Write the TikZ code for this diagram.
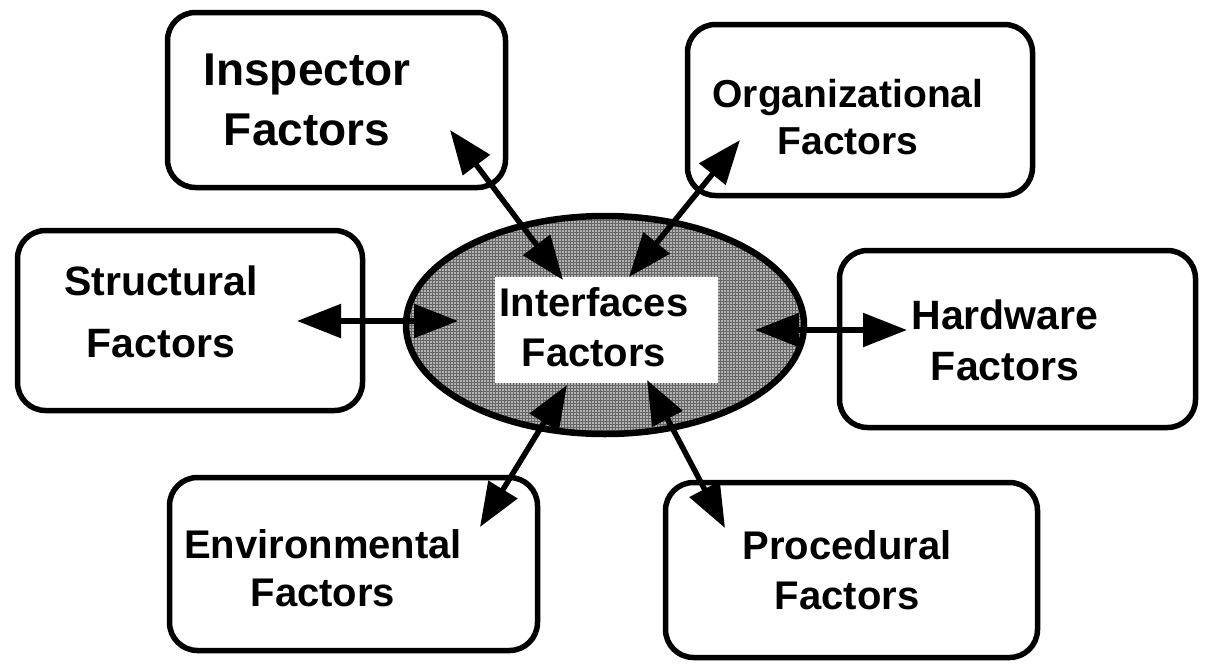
\documentclass[tikz,border=0pt]{standalone}
\usepackage{fontspec}
\setmainfont{Liberation Sans}
\usetikzlibrary{arrows.meta, shapes.geometric, patterns}
\tikzstyle{factorbox} = [draw, line width=5.5pt, rounded corners=28pt, inner sep=0pt]
\tikzstyle{factortext} = [align=center, font=\bfseries, inner sep=0pt]
\tikzstyle{biarrow} = [line width=5.5pt, {Triangle[length=44pt,width=33pt]}-{Triangle[length=44pt,width=33pt]}]

\begin{document}
\begin{tikzpicture}[x=1pt, y=-1pt]
    \useasboundingbox (0,0) rectangle (1205,667);
    % the six factor boxes
    \node[factorbox, minimum width=338pt, minimum height=175pt] (insp) at (336.5,100) {};
    \node[factorbox, minimum width=345pt, minimum height=171pt] (org) at (860,110) {};
    \node[factorbox, minimum width=345pt, minimum height=180pt] (struc) at (190,320.5) {};
    \node[factorbox, minimum width=356pt, minimum height=177pt] (hard) at (1017.5,339) {};
    \node[factorbox, minimum width=368pt, minimum height=173pt] (env) at (353.5,564) {};
    \node[factorbox, minimum width=372pt, minimum height=175pt] (proc) at (851.5,570) {};
    \node[factortext, font=\bfseries\fontsize{46}{60}\selectfont] (insptxt) at (307,100) {Inspector\\Factors};
    \node[factortext, font=\bfseries\fontsize{39}{47}\selectfont] (orgtxt) at (848,117) {Organizational\\Factors};
    \node[factortext, font=\bfseries\fontsize{41}{62}\selectfont] (structxt) at (161,312) {Structural\\Factors};
    \node[factortext, font=\bfseries\fontsize{41}{51}\selectfont] (hardtxt) at (1005,340) {Hardware\\Factors};
    \node[factortext, font=\bfseries\fontsize{40}{48}\selectfont] (envtxt) at (323,568) {Environmental\\Factors};
    \node[factortext, font=\bfseries\fontsize{40}{50}\selectfont] (proctxt) at (847,570) {Procedural\\Factors};

    % centre
    \node[draw, ellipse, line width=6.5pt, minimum width=398pt, minimum height=218pt,
          preaction={fill=gray!60}, pattern=grid, pattern color=black!60] (hub) at (605,325) {};
    \node[fill=white, minimum width=223pt, minimum height=106pt] (hubpanel) at (606.5,330) {};
    \node[factortext, font=\bfseries\fontsize{40}{50}\selectfont] (hubtxt) at (594,327) {Interfaces\\Factors};

    % arrow ends
    \coordinate (insp-end) at (450,130);   \coordinate (hub-insp) at (563,280);
    \coordinate (org-end) at (740,140);    \coordinate (hub-org) at (629,277);
    \coordinate (struc-end) at (297,321);  \coordinate (hub-struc) at (458,321);
    \coordinate (hard-end) at (907,330);   \coordinate (hub-hard) at (755,330);
    \coordinate (env-end) at (480,527);    \coordinate (hub-env) at (567,385);
    \coordinate (proc-end) at (725,528);   \coordinate (hub-proc) at (647,380);
    \foreach \f in {insp, org, struc, hard, env, proc}
      \draw[biarrow] (hub-\f) -- (\f-end);
  \end{tikzpicture}
\end{document}
